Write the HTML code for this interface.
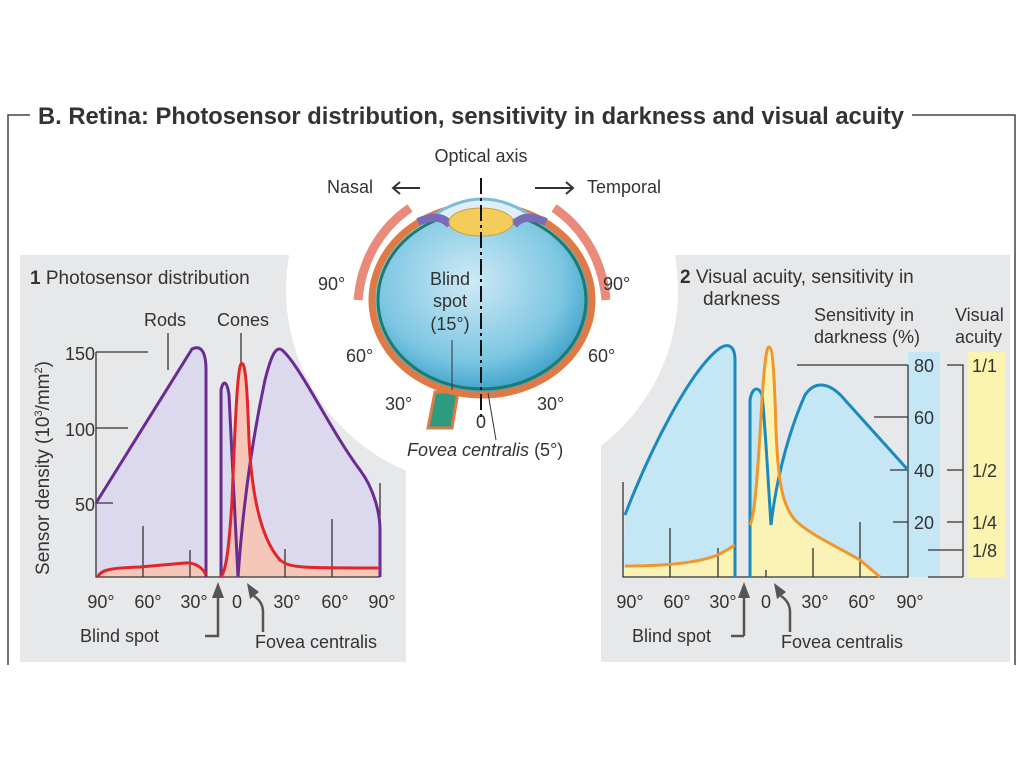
<!DOCTYPE html>
<html><head><meta charset="utf-8"><style>
html,body{margin:0;padding:0;background:#fff;}
svg{display:block;font-family:"Liberation Sans",sans-serif;}
text{fill:#333;}
</style></head><body>
<svg width="1024" height="767" viewBox="0 0 1024 767" xmlns="http://www.w3.org/2000/svg">
<defs>
<mask id="cut"><rect width="1024" height="767" fill="#fff"/><circle cx="482" cy="290" r="196" fill="#000"/></mask>
<radialGradient id="eyeg" cx="0.45" cy="0.4" r="0.6"><stop offset="0" stop-color="#cfeaf5"/><stop offset="0.7" stop-color="#7cc6e2"/><stop offset="1" stop-color="#3a9fc8"/></radialGradient>
</defs>
<!-- frame -->
<g stroke="#444" stroke-width="1.5" fill="none">
<path d="M8,665 V115 H30"/><path d="M912,115 H1015 V665"/>
</g>
<text x="38" y="124" font-size="24" font-weight="bold" textLength="866" lengthAdjust="spacingAndGlyphs" fill="#333">B.  Retina: Photosensor distribution, sensitivity in darkness and visual acuity</text>
<!-- panels -->
<g mask="url(#cut)" fill="#e7e8ea">
<rect x="20" y="255" width="386" height="407"/>
<rect x="601" y="255" width="409" height="407"/>
</g>

<!-- LEFT CHART -->
<path d="M96,503 L192,349 C200,345 206,350 206,370 L206,577 L96,577Z" fill="#dcd8ee"/>
<path d="M221,577 L221,390 C223,380 227,380 229,395 L238,577Z" fill="#dcd8ee"/>
<path d="M238,577 C242,520 250,450 265,380 C270,360 275,345 282,350 C300,365 330,430 360,470 C375,490 380,515 380,530 L380,577Z" fill="#dcd8ee"/>
<path d="M98,577 C100,570 110,568 140,567 L185,563 C195,562 203,568 206,575 L206,577Z" fill="#f6c6b8"/>
<path d="M221,577 C226,570 229,550 232,500 C235,430 237,370 241,364 C245,360 247,380 249,440 C252,500 262,540 280,560 C290,568 300,568 380,568 L380,577Z" fill="#f6c6b8"/>
<g stroke="#333" stroke-width="1.3" fill="none">
<path d="M96,352 V577 H380"/>
<path d="M96,352 H148 M96,428 H128 M96,503 H113"/>
<path d="M143,577 V526 M190,577 V550 M285,577 V549 M332,577 V519 M380,577 V483"/>
<path d="M168,333 V370 M241,333 V365"/>
</g>
<path d="M96,503 L192,349 C200,345 206,350 206,370 L206,577" stroke="#6a2c91" stroke-width="3" fill="none"/>
<path d="M221,577 L221,390 C223,380 227,380 229,395 L238,577 C242,520 250,450 265,380 C270,360 275,345 282,350 C300,365 330,430 360,470 C375,490 380,515 380,530 L380,577" stroke="#6a2c91" stroke-width="3" fill="none"/>
<path d="M98,577 C100,570 110,568 140,567 L185,563 C195,562 203,568 206,575" stroke="#e0262a" stroke-width="3" fill="none"/>
<path d="M221,577 C226,570 229,550 232,500 C235,430 237,370 241,364 C245,360 247,380 249,440 C252,500 262,540 280,560 C290,568 300,568 380,568" stroke="#e0262a" stroke-width="3" fill="none"/>
<text x="30" y="284" font-size="19"><tspan font-weight="bold">1</tspan> Photosensor distribution</text>
<text x="165" y="326" font-size="18" text-anchor="middle">Rods</text>
<text x="243" y="326" font-size="18" text-anchor="middle">Cones</text>
<text transform="translate(49,468) rotate(-90)" font-size="19" text-anchor="middle">Sensor density (10<tspan font-size="11" dy="-7">3</tspan><tspan dy="7">/mm</tspan><tspan font-size="11" dy="-7">2</tspan><tspan dy="7">)</tspan></text>
<g font-size="18" text-anchor="end"><text x="95" y="360">150</text><text x="95" y="436">100</text><text x="95" y="511">50</text></g>
<g font-size="18" text-anchor="middle"><text x="101" y="608">90°</text><text x="148" y="608">60°</text><text x="194" y="608">30°</text><text x="237" y="608">0</text><text x="287" y="608">30°</text><text x="335" y="608">60°</text><text x="382" y="608">90°</text></g>
<text x="80" y="642" font-size="18">Blind spot</text>
<text x="255" y="648" font-size="18">Fovea centralis</text>
<g stroke="#555" stroke-width="2.5" fill="none"><path d="M205,636 H218 V596"/><path d="M263,632 V612 Q263,602 254,596"/><path d="M744,636 H731 M744,636 V596"/><path d="M790,632 V612 Q790,602 781,596"/></g>
<g fill="#555"><path d="M212,598 L218,582 L224,598Z"/><path d="M247,583 L259,592 L250,599Z"/><path d="M738,598 L744,582 L750,598Z"/><path d="M774,583 L786,592 L777,599Z"/></g>

<!-- RIGHT CHART -->
<rect x="908" y="352" width="32" height="225" fill="#c5e6f5"/>
<rect x="968" y="352" width="38" height="225" fill="#fbf3b0"/>
<path d="M625,515 C650,450 690,370 720,348 C730,342 735,348 735,360 L735,577 L623,577Z" fill="#c5e6f5"/>
<path d="M750,577 L750,400 C752,388 758,385 762,395 C765,420 768,480 771,525 C775,490 785,440 805,395 C815,380 830,382 845,400 L908,470 L908,577Z" fill="#c5e6f5"/>
<path d="M625,566 C650,566 690,565 715,556 C725,552 730,548 735,545 L735,577 L623,577Z" fill="#fbf2b5"/>
<path d="M750,525 C755,515 758,470 762,400 C765,355 767,347 769,347 C772,347 774,360 776,430 C778,480 782,505 795,520 C810,535 840,548 860,560 L880,577 L750,577Z" fill="#fbf2b5"/>
<g stroke="#333" stroke-width="1.3" fill="none">
<path d="M623,482 V577 H908 V365"/>
<path d="M797,365 H908 M874,417 H908 M890,470 H908 M893,522 H908"/>
<path d="M670,577 V528 M718,577 V548 M766,577 V570 M813,577 V548 M860,577 V522"/>
<path d="M947,365 H963 V577 M947,470 H963 M947,522 H963 M928,550 H963 M928,577 H963"/>
</g>
<path d="M625,515 C650,450 690,370 720,348 C730,342 735,348 735,360 L735,577" stroke="#1a8abf" stroke-width="3" fill="none"/>
<path d="M750,577 L750,400 C752,388 758,385 762,395 C765,420 768,480 771,525 C775,490 785,440 805,395 C815,380 830,382 845,400 L908,470" stroke="#1a8abf" stroke-width="3" fill="none"/>
<path d="M625,566 C650,566 690,565 715,556 C725,552 730,548 735,545" stroke="#f0962a" stroke-width="3" fill="none"/>
<path d="M750,525 C755,515 758,470 762,400 C765,355 767,347 769,347 C772,347 774,360 776,430 C778,480 782,505 795,520 C810,535 840,548 860,560 L880,577" stroke="#f0962a" stroke-width="3" fill="none"/>
<text x="680" y="283" font-size="19"><tspan font-weight="bold">2</tspan> Visual acuity, sensitivity in</text>
<text x="703" y="305" font-size="19">darkness</text>
<text x="814" y="321" font-size="18">Sensitivity in</text>
<text x="814" y="343" font-size="18">darkness (%)</text>
<text x="955" y="321" font-size="18">Visual</text>
<text x="955" y="343" font-size="18">acuity</text>
<g font-size="18"><text x="914" y="372">80</text><text x="914" y="424">60</text><text x="914" y="477">40</text><text x="914" y="529">20</text>
<text x="972" y="372">1/1</text><text x="972" y="477">1/2</text><text x="972" y="529">1/4</text><text x="972" y="557">1/8</text></g>
<g font-size="18" text-anchor="middle"><text x="630" y="608">90°</text><text x="677" y="608">60°</text><text x="723" y="608">30°</text><text x="766" y="608">0</text><text x="815" y="608">30°</text><text x="862" y="608">60°</text><text x="910" y="608">90°</text></g>
<text x="632" y="642" font-size="18">Blind spot</text>
<text x="781" y="648" font-size="18">Fovea centralis</text>

<!-- EYE -->
<path d="M410,208 C385,225 362,255 358,300" stroke="#e98a7a" stroke-width="9" fill="none"/>
<path d="M554,208 C579,225 602,255 606,300" stroke="#e98a7a" stroke-width="9" fill="none"/>
<path d="M435,392 L428,428 L452,428 L458,392Z" fill="#2e9a7e" stroke="#e07a45" stroke-width="3"/>
<ellipse cx="482" cy="300" rx="110" ry="95" fill="url(#eyeg)" stroke="#e07a45" stroke-width="7"/>
<ellipse cx="482" cy="300" rx="104" ry="89" fill="none" stroke="#1e7a6a" stroke-width="3"/>
<path d="M430,218 Q482,180 534,218" fill="#dfeef5" stroke="#7bbcd6" stroke-width="3"/>
<path d="M418,222 Q440,212 450,225 M546,222 Q524,212 514,225" stroke="#7a6bb8" stroke-width="8" fill="none"/>
<ellipse cx="481" cy="222" rx="32" ry="14" fill="#f4cc5a" stroke="#c9a040" stroke-width="1"/>
<path d="M481,178 V420" stroke="#111" stroke-width="2" stroke-dasharray="16,4,3,4" fill="none"/>
<path d="M452,340 V390 M488,393 L496,440" stroke="#333" stroke-width="1" fill="none"/>
<g font-size="18">
<text x="481" y="162" text-anchor="middle">Optical axis</text>
<text x="327" y="193">Nasal</text>
<text x="587" y="193">Temporal</text>
<text x="318" y="290">90°</text><text x="603" y="290">90°</text>
<text x="346" y="362">60°</text><text x="588" y="362">60°</text>
<text x="385" y="410">30°</text><text x="537" y="410">30°</text>
<text x="476" y="428">0</text>
<text x="450" y="285" text-anchor="middle">Blind</text>
<text x="450" y="307" text-anchor="middle">spot</text>
<text x="450" y="330" text-anchor="middle">(15°)</text>
<text x="407" y="456"><tspan font-style="italic">Fovea centralis</tspan> (5°)</text>
</g>
<g stroke="#333" stroke-width="2" fill="none"><path d="M420,188 H393 M400,182 L393,188 L400,194"/><path d="M535,188 H573 M566,182 L573,188 L566,194"/></g>
</svg>
</body></html>
